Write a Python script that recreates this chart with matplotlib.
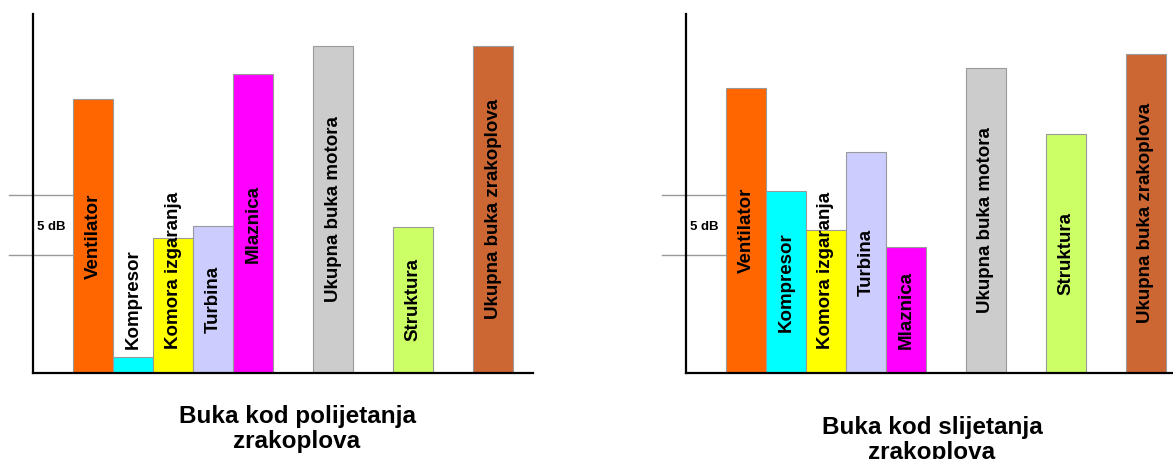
import numpy as np
import matplotlib
matplotlib.use("Agg")
from matplotlib import pyplot as plt

plt.rcParams['font.family'] = ['Liberation Sans', 'DejaVu Sans']
plt.rcParams['font.weight'] = 'bold'

# Noise sources (same order on both charts)
sources = ['Ventilator', 'Kompresor', 'Komora izgaranja', 'Turbina', 'Mlaznica',
           'Ukupna buka motora', 'Struktura', 'Ukupna buka zrakoplova']
colors = ['#FF6600', '#00FFFF', '#FFFF00', '#CCCCFF', '#FF00FF',
          '#CCCCCC', '#CCFF66', '#CC6633']

# Relative noise levels in dB
takeoff_db = [22.8, 1.35, 11.25, 12.25, 24.9, 27.25, 12.2, 27.25]
landing_db = [23.75, 15.15, 11.9, 18.4, 10.5, 25.4, 19.9, 26.6]

titles = ['Buka kod polijetanja\nzrakoplova', 'Buka kod slijetanja\nzrakoplova']

# 5 dB reference band
scale_low, scale_high = 9.8, 14.8

W, H = 1173, 459
fig = plt.figure(figsize=(W / 100, H / 100), dpi=100)

# engine parts side by side, totals and structure spaced out
slots = np.r_[np.arange(1, 6), [7, 9, 11]]


def panel(x0, values, title, title_xy):
    ax = fig.add_axes([x0 / W, (H - 373) / H, 500 / W, 359 / H])
    ax.set_xlim(0, 12.5)
    ax.set_ylim(0, 29.9)
    ax.bar(slots, values, width=1, align='edge', color=colors,
           edgecolor='#9a9a9a', linewidth=0.8, zorder=2)
    for side in ['top', 'right']:
        ax.spines[side].set_visible(False)
    for side in ['left', 'bottom']:
        ax.spines[side].set_linewidth(1.6)
        ax.spines[side].set_zorder(3)
    ax.set_xticks([])
    ax.set_yticks([])

    # scale band lines and label
    for yv in (scale_low, scale_high):
        ax.plot([-0.6, 1.0], [yv, yv], color='#999999', lw=1.0,
                clip_on=False, zorder=1)
    ax.text(0.45, (scale_low + scale_high) / 2 - 0.1, '5 dB', fontsize=9.5,
            fontweight='bold', ha='center', va='center')

    labels = []
    for s, v, name in zip(slots, values, sources):
        t = ax.text(s + 0.5, v / 2, name, rotation=90, fontsize=13.5,
                    fontweight='bold', ha='center', va='center', zorder=4)
        labels.append((t, v))

    # lift labels that would run into the baseline
    fig.canvas.draw()
    inv = ax.transData.inverted()
    for t, v in labels:
        bb = t.get_window_extent()
        y0 = inv.transform((0, bb.y0))[1]
        y1 = inv.transform((0, bb.y1))[1]
        half = (y1 - y0) / 2
        t.set_y(max(v / 2, half + 2.0))

    fig.text(title_xy[0] / W, 1 - title_xy[1] / H, title, fontsize=17.5,
             fontweight='bold', ha='center', va='center', linespacing=1.1)
    return ax


panel(33, takeoff_db, titles[0], (297, 429))
panel(686, landing_db, titles[1], (932, 440))

fig.savefig('out.png', dpi=100, facecolor='white')
